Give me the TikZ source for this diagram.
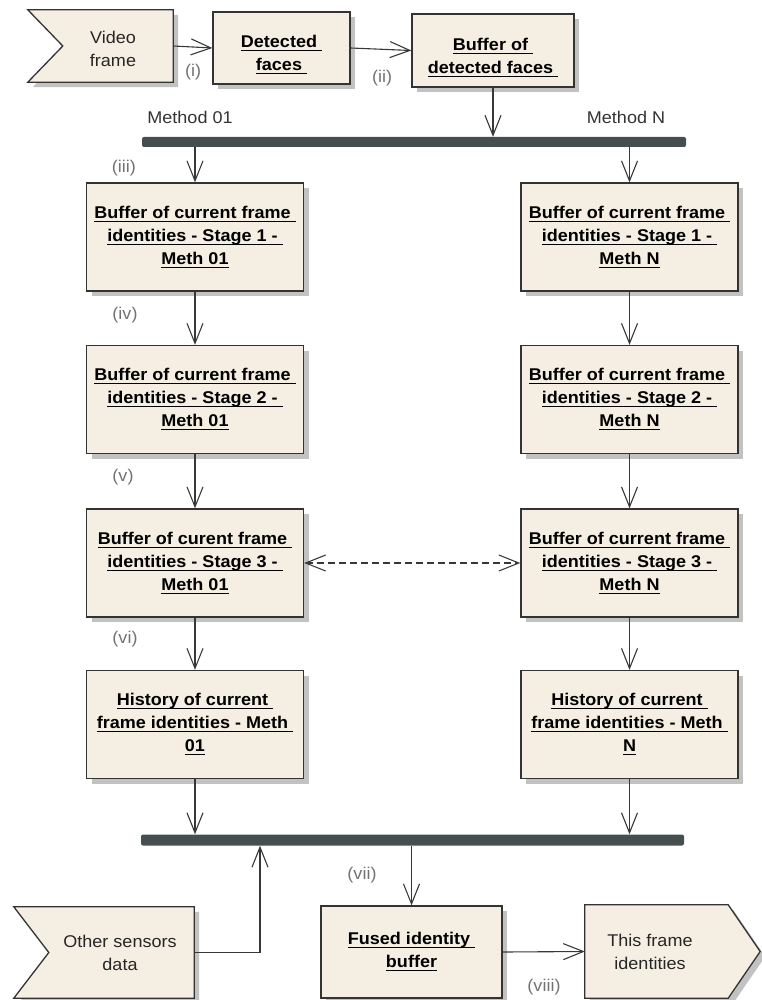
\documentclass[tikz,border=0pt]{standalone}
\usepackage{fontspec}
\setmainfont{Liberation Sans}[FakeStretch=1.06]
\usetikzlibrary{arrows.meta,shadows,calc}
\definecolor{boxfill}{HTML}{F5EEE2}
\definecolor{barcol}{HTML}{464F4F}
\newsavebox\ulbox
\newcommand\ulx[1]{\sbox\ulbox{#1}\rlap{\rule[-3.5pt]{\wd\ulbox}{1pt}}\usebox\ulbox}
\newcommand\lowstrut{\rule{0pt}{26pt}}
\begin{document}
\begin{tikzpicture}[x=1pt,y=-1pt,
  font=\fontsize{17}{23}\selectfont,
  shad/.style={drop shadow={shadow xshift=5pt,shadow yshift=-5pt,fill=black!24,opacity=1}},
  box/.style={draw=black!80, line width=1.3pt, fill=boxfill, align=center, inner sep=0pt, shad,
    font=\fontsize{17}{23}\selectfont\bfseries},
  colbox/.style={box, minimum width=217pt, minimum height=108pt},
  flag/.style={draw=black!80, line width=1.3pt, fill=boxfill, shad},
  flagbb/.style={draw=none, inner sep=0pt},
  plain/.style={align=center, inner sep=0pt, text=black!85},
  bar/.style={fill=barcol, rounded corners=2pt, inner sep=0pt, draw=none},
  conn/.style={draw=black!78, line width=1.1pt, -{Straight Barb[length=20pt,width=16pt]}},
  lbl/.style={text=black!55, inner sep=0pt},
  mth/.style={text=black!80, inner sep=0pt}]
\useasboundingbox (0,0) rectangle (762,1000);

% ---- top row ----
\node[flagbb, minimum width=145pt, minimum height=72pt] (vf) at (100.5,46) {};
\filldraw[flag] (vf.north west) -- (vf.north east) -- (vf.south east) -- (vf.south west) -- ($(vf.west)+(35,0)$) -- cycle;
\node[plain] (vft) at (113,49) {Video\\frame};

\node[box, minimum width=137pt, minimum height=72pt] (det) at (281.5,48) {\lowstrut\ulx{Detected }\\\ulx{faces }};
\node[box, minimum width=162pt, minimum height=73pt] (bdf) at (493,50.5) {\lowstrut\ulx{Buffer of }\\\ulx{detected faces }};

\draw[conn] (vf.east) -- (det.west);
\draw[conn] (det.east) -- (bdf.west);
\node[lbl] (li) at (193,72) {(i)};
\node[lbl] (lii) at (382,78) {(ii)};

% ---- top bar ----
\node[bar, minimum width=544pt, minimum height=10pt] (bar1) at (414,142) {};
\node[mth] (m1) at (190,117) {Method 01};
\node[mth] (mn) at (626,117) {Method N};
\draw[conn] (bdf.south) -- (bdf.south |- bar1.north);

% ---- left column ----
\node[colbox] (s1l) at (195,237) {\ulx{Buffer of current frame }\\\ulx{identities - Stage 1 - }\\\ulx{Meth 01}};
\node[colbox] (s2l) at (195,399.5) {\ulx{Buffer of current frame }\\\ulx{identities - Stage 2 - }\\\ulx{Meth 01}};
\node[colbox] (s3l) at (195,563) {\ulx{Buffer of curent frame }\\\ulx{identities - Stage 3 - }\\\ulx{Meth 01}};
\node[colbox] (hl) at (195,724.5) {\ulx{History of current }\\\ulx{frame identities - Meth }\\\ulx{01}};

% ---- right column ----
\node[colbox] (s1r) at (629.5,237) {\ulx{Buffer of current frame }\\\ulx{identities - Stage 1 - }\\\ulx{Meth N}};
\node[colbox] (s2r) at (629.5,399.5) {\ulx{Buffer of current frame }\\\ulx{identities - Stage 2 - }\\\ulx{Meth N}};
\node[colbox] (s3r) at (629.5,563) {\ulx{Buffer of current frame }\\\ulx{identities - Stage 3 - }\\\ulx{Meth N}};
\node[colbox] (hr) at (629.5,724.5) {\ulx{History of current }\\\ulx{frame identities - Meth }\\\ulx{N}};

\draw[conn] (s1l.north |- bar1.south) -- (s1l.north);
\draw[conn] (s1r.north |- bar1.south) -- (s1r.north);
\draw[conn] (s1l.south) -- (s2l.north);
\draw[conn] (s2l.south) -- (s3l.north);
\draw[conn] (s3l.south) -- (hl.north);
\draw[conn] (s1r.south) -- (s2r.north);
\draw[conn] (s2r.south) -- (s3r.north);
\draw[conn] (s3r.south) -- (hr.north);
\draw[draw=black!78, line width=1.1pt, dash pattern=on 7pt off 4pt,
  {Straight Barb[length=20pt,width=16pt]}-{Straight Barb[length=20pt,width=16pt]}] (s3l.east) -- (s3r.west);

\node[lbl] (liii) at (124,168) {(iii)};
\node[lbl] (liv) at (125,315) {(iv)};
\node[lbl] (lv) at (123,477) {(v)};
\node[lbl] (lvi) at (125,639) {(vi)};

% ---- bottom bar ----
\node[bar, minimum width=543pt, minimum height=11pt] (bar2) at (412.5,840) {};
\draw[conn] (hl.south) -- (hl.south |- bar2.north);
\draw[conn] (hr.south) -- (hr.south |- bar2.north);

% ---- bottom row ----
\node[flagbb, minimum width=180pt, minimum height=91pt] (os) at (104,952.5) {};
\filldraw[flag] (os.north west) -- (os.north east) -- (os.south east) -- (os.south west) -- ($(os.west)+(35,0)$) -- cycle;
\node[plain] (ost) at (120,953) {Other sensors\\data};

\node[box, minimum width=181pt, minimum height=92pt] (fus) at (411.5,952) {\ulx{Fused identity }\\\ulx{buffer}};

\node[flagbb, minimum width=175pt, minimum height=93pt] (tf) at (672.5,951.5) {};
\filldraw[flag] (tf.north west) -- ($(tf.north east)+(-32,0)$) -- (tf.east) -- ($(tf.south east)+(-32,0)$) -- (tf.south west) -- cycle;
\node[plain] (tft) at (650,952) {This frame\\identities};

\coordinate (osup) at (260,0);
\draw[conn] (os.east) -| (osup |- bar2.south);
\draw[conn] (fus.north |- bar2.south) -- (fus.north);
\draw[conn] (fus.east) -- (tf.west);
\node[lbl] (lvii) at (362,875) {(vii)};
\node[lbl] (lviii) at (544,987) {(viii)};
\end{tikzpicture}
\end{document}
